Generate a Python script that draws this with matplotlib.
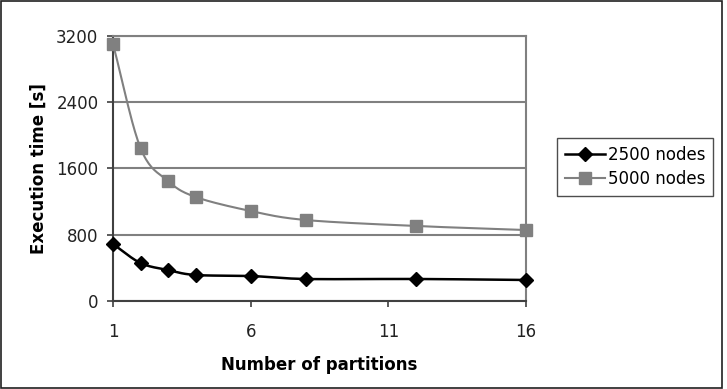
import numpy as np
import matplotlib
matplotlib.use("Agg")
import matplotlib.pyplot as plt
from matplotlib.patches import Rectangle

plt.rcParams['font.family'] = ['DejaVu Sans']

partitions = [1, 2, 3, 4, 6, 8, 12, 16]
nodes_2500 = [688, 459, 374, 314, 302, 266, 266, 254]
nodes_5000 = [3104, 1848, 1449, 1256, 1087, 978, 906, 857]
series_labels = ["2500 nodes", "5000 nodes"]
y_ticks = [0, 800, 1600, 2400, 3200]
x_ticks = [1, 6, 11, 16]


def smooth(xs, ys, n=20):
    # Catmull-Rom curve through the data points (drawing only)
    xs = np.asarray(xs, float); ys = np.asarray(ys, float)
    px = np.concatenate([[2 * xs[0] - xs[1]], xs, [2 * xs[-1] - xs[-2]]])
    py = np.concatenate([[2 * ys[0] - ys[1]], ys, [2 * ys[-1] - ys[-2]]])
    ox, oy = [], []
    t = np.linspace(0, 1, n, endpoint=False)
    for i in range(1, len(px) - 2):
        for arr, out in ((px, ox), (py, oy)):
            p0, p1, p2, p3 = arr[i - 1], arr[i], arr[i + 1], arr[i + 2]
            out.extend(0.5 * ((2 * p1) + (-p0 + p2) * t
                              + (2 * p0 - 5 * p1 + 4 * p2 - p3) * t ** 2
                              + (-p0 + 3 * p1 - 3 * p2 + p3) * t ** 3))
    ox.append(xs[-1]); oy.append(ys[-1])
    return np.array(ox), np.array(oy)


fig = plt.figure(figsize=(7.27, 3.89), dpi=100)
fig.patches.append(Rectangle((1.5 / 727, 1.0 / 389), 720 / 727, 387 / 389,
                             transform=fig.transFigure,
                             fill=False, edgecolor='#202020', linewidth=1.2))
ax = fig.add_axes([0.1554, 0.2262, 0.5681, 0.6813])

ax.set_xlim(1, 16)
ax.set_ylim(0, 3200)
ax.set_xticks(x_ticks)
ax.set_yticks(y_ticks)
ax.yaxis.grid(True, color='#808080', linewidth=1.5)
ax.set_axisbelow(True)

sx, sy = smooth(partitions, nodes_2500)
ax.plot(sx, sy, color='black', linewidth=1.8, zorder=3, clip_on=False)
ax.plot(partitions, nodes_2500, linestyle='none', marker='D', color='black',
        markersize=7, zorder=4, clip_on=False)
sx, sy = smooth(partitions, nodes_5000)
ax.plot(sx, sy, color='#808080', linewidth=1.5, zorder=3, clip_on=False)
ax.plot(partitions, nodes_5000, linestyle='none', marker='s', color='#808080',
        markersize=8, zorder=4, clip_on=False)

for s in ['left', 'bottom']:
    ax.spines[s].set_color('#404040')
    ax.spines[s].set_linewidth(1.5)
for s in ['right', 'top']:
    ax.spines[s].set_color('#808080')
    ax.spines[s].set_linewidth(1.5)
ax.tick_params(axis='both', direction='out', length=4.5, width=1.2, color='#404040',
               labelsize=12, labelcolor='#222222', pad=6)
ax.tick_params(axis='x', pad=11)

ax.set_xlabel("Number of partitions", fontsize=12, fontweight='bold', labelpad=11)
ax.set_ylabel("Execution time [s]", fontsize=12, fontweight='bold', labelpad=6)

h1 = plt.Line2D([], [], color='black', linewidth=1.8, marker='D', markersize=7)
h2 = plt.Line2D([], [], color='#808080', linewidth=1.5, marker='s', markersize=8)
leg = fig.legend([h1, h2], series_labels, loc='center', bbox_to_anchor=(0.874, 0.571),
                 fontsize=12, frameon=True, fancybox=False, edgecolor='#202020',
                 handlelength=2.4, handletextpad=0.2, borderpad=0.45, labelspacing=0.4,
                 borderaxespad=0)
leg.get_frame().set_linewidth(1.0)

fig.savefig("out.png", dpi=100)
